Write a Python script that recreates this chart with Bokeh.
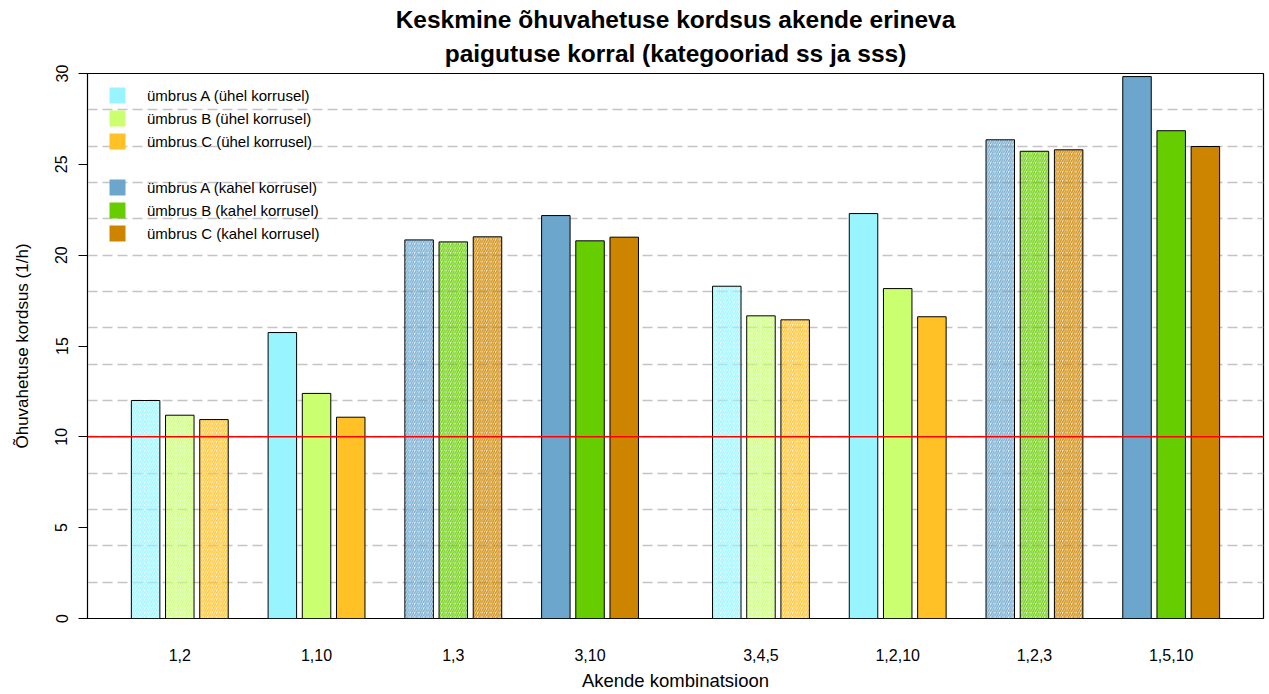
from bokeh.plotting import figure
from bokeh.models import Range1d, FixedTicker, Span, Legend, LegendItem, ColumnDataSource, Title
from bokeh.embed import file_html
from bokeh.resources import INLINE

# ---- data ----
groups = ["1,2", "1,10", "1,3", "3,10", "3,4,5", "1,2,10", "1,2,3", "1,5,10"]
umbrus_A = [12.0, 15.74, 20.84, 22.18, 18.29, 22.29, 26.35, 29.83]
umbrus_B = [11.19, 12.39, 20.73, 20.79, 16.66, 18.16, 25.72, 26.85]
umbrus_C = [10.95, 11.08, 21.01, 20.99, 16.44, 16.61, 25.80, 25.98]
two_floor = [False, False, True, True, False, False, True, True]
hatched = [True, False, True, False, True, False, True, False]

labels_one = ["ümbrus A (ühel korrusel)", "ümbrus B (ühel korrusel)", "ümbrus C (ühel korrusel)"]
labels_two = ["ümbrus A (kahel korrusel)", "ümbrus B (kahel korrusel)", "ümbrus C (kahel korrusel)"]
colors_one = ["#98F5FF", "#CAFF70", "#FFC125"]
colors_two = ["#6CA6CD", "#66CD00", "#CD8500"]

y_ticks = [0, 5, 10, 15, 20, 25, 30]
grid_ticks = [2, 4, 6, 8, 10, 12, 14, 16, 18, 20, 22, 24, 26, 28]
reference_level = 10

title_line1 = "Keskmine õhuvahetuse kordsus akende erineva"
title_line2 = "paigutuse korral (kategooriad ss ja sss)"
x_label = "Akende kombinatsioon"
y_label = "Õhuvahetuse kordsus (1/h)"

# ---- layout (barplot style: bar width 1, space 0.2 inside, 1.4 between groups) ----
BAR_W, INNER, GAP, EXTRA = 1.0, 0.2, 1.4, 1.2
starts = []
s = 0.0
for g in range(len(groups)):
    if g == 4:
        s += EXTRA
    starts.append(round(s, 4))
    s += 3 * BAR_W + 2 * INNER + GAP
centers = [round(st + 1.5 * BAR_W + INNER, 4) for st in starts]

series = [umbrus_A, umbrus_B, umbrus_C]
solid = dict(x=[], top=[], color=[])
hatch = dict(x=[], top=[], color=[])
for g in range(len(groups)):
    for j in range(3):
        x = round(starts[g] + 0.5 * BAR_W + j * (BAR_W + INNER), 4)
        col = colors_two[j] if two_floor[g] else colors_one[j]
        d = hatch if hatched[g] else solid
        d["x"].append(x)
        d["top"].append(series[j][g])
        d["color"].append(col)

FONT = "Liberation Sans"

p = figure(width=1269, height=694, output_backend="svg", toolbar_location=None,
           x_range=Range1d(-1.54, 39.74), y_range=Range1d(0, 30),
           min_border_left=87, min_border_right=6, min_border_top=73, min_border_bottom=76)
p.background_fill_color = "white"
p.border_fill_color = "white"
p.outline_line_color = "black"
p.outline_line_width = 1.2

for txt, so in ((title_line2, 14), (title_line1, -4)):
    p.add_layout(Title(text=txt, align="center", text_font=FONT, text_font_size="24.5px",
                       text_font_style="bold", text_color="black", standoff=so), "above")

p.xgrid.visible = False
p.ygrid.ticker = FixedTicker(ticks=grid_ticks)
p.ygrid.grid_line_color = "#C4C4C4"
p.ygrid.grid_line_dash = "10 5"
p.ygrid.grid_line_width = 1.5

p.vbar(x="x", top="top", width=BAR_W, source=ColumnDataSource(solid),
       fill_color="color", line_color="black", line_width=1)
p.vbar(x="x", top="top", width=BAR_W, source=ColumnDataSource(hatch),
       fill_color="color", fill_alpha=0.15, line_color="black", line_width=1,
       hatch_pattern="/", hatch_color="color", hatch_scale=4.5, hatch_weight=1.4,
       hatch_alpha=0.9)

p.add_layout(Span(location=reference_level, dimension="width",
                  line_color="#FF0000", line_width=1.5))

# axes
p.yaxis.ticker = FixedTicker(ticks=y_ticks)
p.yaxis.major_label_orientation = "vertical"
p.yaxis.major_tick_out = 9
p.yaxis.major_tick_in = 0
p.yaxis.minor_tick_line_color = None
p.yaxis.axis_line_color = "black"
p.yaxis.major_tick_line_color = "black"
p.yaxis.major_label_standoff = 11
p.yaxis.major_label_text_font = FONT
p.yaxis.major_label_text_font_size = "16px"
p.yaxis.major_label_text_color = "black"
p.yaxis.axis_label = y_label
p.yaxis.axis_label_text_font = FONT
p.yaxis.axis_label_text_font_size = "17px"
p.yaxis.axis_label_text_font_style = "normal"
p.yaxis.axis_label_text_color = "black"
p.yaxis.axis_label_standoff = 21

p.xaxis.ticker = FixedTicker(ticks=centers)
p.xaxis.major_label_overrides = {c: lab for c, lab in zip(centers, groups)}
p.xaxis.major_tick_line_color = None
p.xaxis.minor_tick_line_color = None
p.xaxis.major_tick_out = 0
p.xaxis.major_tick_in = 0
p.xaxis.axis_line_color = None
p.xaxis.major_label_standoff = 30
p.xaxis.major_label_text_font = FONT
p.xaxis.major_label_text_font_size = "16px"
p.xaxis.major_label_text_color = "black"
p.xaxis.axis_label = x_label
p.xaxis.axis_label_text_font = FONT
p.xaxis.axis_label_text_font_size = "18.5px"
p.xaxis.axis_label_text_font_style = "normal"
p.xaxis.axis_label_text_color = "black"
p.xaxis.axis_label_standoff = 6

# legends (two blocks); proxy renderers are zero-height bars at the baseline
def make_legend(labels, colors, loc):
    items = []
    for lab, col in zip(labels, colors):
        r = p.vbar(x=[centers[0]], top=[0], bottom=[0], width=BAR_W,
                   fill_color=col, line_color=None)
        items.append(LegendItem(label=lab, renderers=[r]))
    lg = Legend(items=items, location=loc, glyph_width=20, glyph_height=20,
                label_height=20, spacing=3, padding=0, margin=0, label_standoff=20,
                border_line_color=None, background_fill_alpha=0,
                label_text_font=FONT, label_text_font_size="15px",
                label_text_color="black")
    p.add_layout(lg)

make_legend(labels_one, colors_one, (20, 467))
make_legend(labels_two, colors_two, (20, 375))

open("out.html", "w").write(file_html(p, INLINE))
